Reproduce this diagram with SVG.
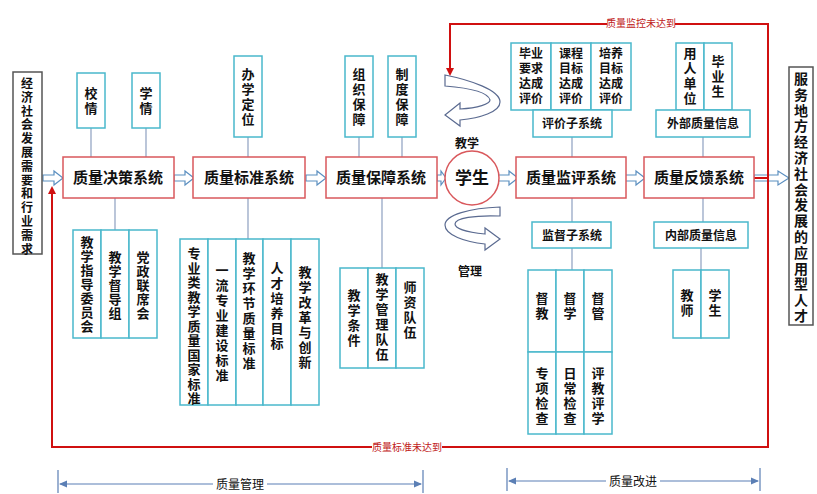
<svg xmlns="http://www.w3.org/2000/svg" width="817" height="494" viewBox="0 0 817 494">
<style>
text{font-family:"Noto Sans CJK SC","Noto Sans",sans-serif;fill:#111;font-weight:bold}
.v{font-size:13px;text-anchor:middle}
.m{font-size:15px;text-anchor:middle}
.s{font-size:12px;text-anchor:middle}
.main{fill:#fff;stroke:#d9585c;stroke-width:1.5}
.sub{fill:#fff;stroke:#4ab8cc;stroke-width:1.5}
.side{fill:#fff;stroke:#555;stroke-width:1.5}
.ln{stroke:#8ea0c0;stroke-width:1.2;fill:none}
.red{stroke:#d01010;stroke-width:2;fill:none}
.ha{fill:#fff;stroke:#5b8fc0;stroke-width:1.2}
.dim{stroke:#5b7fb5;stroke-width:1.2;fill:none}
.lbl{font-size:10px;fill:#c02020;font-weight:normal;text-anchor:middle}
</style>
<defs>
<path id="ha" d="M0,-3 H11 V-7 L20,0 L11,7 V3 H0 Z"/>
<marker id="rh" markerWidth="8" markerHeight="8" refX="6" refY="4" orient="auto" markerUnits="userSpaceOnUse"><path d="M0,0 L8,4 L0,8 Z" fill="#d01010"/></marker>
<marker id="bh" markerWidth="8" markerHeight="8" refX="7" refY="4" orient="auto-start-reverse" markerUnits="userSpaceOnUse"><path d="M0,0.5 L8,4 L0,7.5 Z" fill="#5b7fb5"/></marker>
</defs>
<rect width="817" height="494" fill="#fff"/>

<g id="connectors">
<path class="ln" d="M91,128V157M146,128V157M115,198V230M248,137V157M248,198V239M359,137V157M402,137V157M382,198V268M572,137V157M572,198V222M572,248V270M703,137V157M703,198V222M701,248V270"/>
<g class="ha">
<use href="#ha" x="43" y="178"/><use href="#ha" x="174" y="178"/><use href="#ha" x="306" y="178"/>
<path d="M437,175 H441 V171 L446,178 L441,185 V181 H437 Z"/>
<use href="#ha" x="498" y="178"/><use href="#ha" x="625" y="178"/>
<path d="M754,175 H778 V171 L789,178 L778,185 V181 H754 Z"/>
</g>
<path class="red" d="M768,178 H746" marker-end="url(#rh)"/>
<path class="red" d="M768,178 V24 H450 V74" marker-end="url(#rh)"/>
<path class="red" d="M768,178 V447 H52 V188" marker-end="url(#rh)"/>
<rect x="607" y="17" width="68" height="13" fill="#fff"/>
<text class="lbl" x="641" y="27">质量监控未达到</text>
<rect x="372" y="441" width="70" height="13" fill="#fff"/>
<text class="lbl" x="407" y="451">质量标准未达到</text>
<path fill="#fff" stroke="#5a6a90" stroke-width="1.2" d="M445,75 C470,80 500,90 500,102 C500,112 480,118 460,120 V126 L445,115 L460,103 V109 C478,108 490,104 490,100 C488,92 470,88 445,86 Z"/>
<path fill="#fff" stroke="#5a6a90" stroke-width="1.2" d="M500,207 C470,208 445,215 445,225 C445,235 465,242 485,244 V250 L500,239 L485,228 V234 C465,232 455,228 455,224 C455,218 475,215 500,216 Z"/>
<path class="dim" d="M58,470V493M423,470V493M507,468V491M760,468V491"/>
<path class="dim" d="M60,484H421" marker-start="url(#bh)" marker-end="url(#bh)"/>
<path class="dim" d="M509,481H758" marker-start="url(#bh)" marker-end="url(#bh)"/>
<rect x="213" y="476" width="54" height="16" fill="#fff"/>
<text x="240" y="489" style="font-size:12px;font-weight:normal;text-anchor:middle">质量管理</text>
<rect x="606" y="473" width="54" height="16" fill="#fff"/>
<text x="633" y="486" style="font-size:12px;font-weight:normal;text-anchor:middle">质量改进</text>
<text x="467" y="148" style="font-size:12px;text-anchor:middle">教学</text>
<text x="470" y="276" style="font-size:12px;text-anchor:middle">管理</text>
</g>

<g id="n-left"><rect class="side" x="13" y="72" width="29" height="182"/>
<text class="v" style="font-size:12px"><tspan x="27" y="88">经</tspan><tspan x="27" y="101.8">济</tspan><tspan x="27" y="115.6">社</tspan><tspan x="27" y="129.4">会</tspan><tspan x="27" y="143.2">发</tspan><tspan x="27" y="157">展</tspan><tspan x="27" y="170.8">需</tspan><tspan x="27" y="184.6">要</tspan><tspan x="27" y="198.4">和</tspan><tspan x="27" y="212.2">行</tspan><tspan x="27" y="226">业</tspan><tspan x="27" y="239.8">需</tspan><tspan x="27" y="253.6">求</tspan></text></g>
<g id="n-right"><rect class="side" x="789" y="67" width="24" height="258"/>
<text class="v" style="font-size:14px"><tspan x="801" y="84">服</tspan><tspan x="801" y="99.8">务</tspan><tspan x="801" y="115.6">地</tspan><tspan x="801" y="131.4">方</tspan><tspan x="801" y="147.2">经</tspan><tspan x="801" y="163">济</tspan><tspan x="801" y="178.8">社</tspan><tspan x="801" y="194.6">会</tspan><tspan x="801" y="210.4">发</tspan><tspan x="801" y="226.2">展</tspan><tspan x="801" y="242">的</tspan><tspan x="801" y="257.8">应</tspan><tspan x="801" y="273.6">用</tspan><tspan x="801" y="289.4">型</tspan><tspan x="801" y="305.2">人</tspan><tspan x="801" y="321">才</tspan></text></g>

<g id="n-jc"><rect class="main" x="63" y="157" width="111" height="41"/><text class="m" x="118" y="183">质量决策系统</text></g>
<g id="n-bz"><rect class="main" x="193" y="157" width="112" height="41"/><text class="m" x="249" y="183">质量标准系统</text></g>
<g id="n-bzh"><rect class="main" x="326" y="157" width="111" height="41"/><text class="m" x="381" y="183">质量保障系统</text></g>
<g id="n-xs"><circle cx="472" cy="178" r="27" fill="#fff" stroke="#d9585c" stroke-width="1.5"/><text class="m" x="472" y="184" style="font-size:17px">学生</text></g>
<g id="n-jp"><rect class="main" x="516" y="157" width="110" height="41"/><text class="m" x="571" y="183">质量监评系统</text></g>
<g id="n-fk"><rect class="main" x="644" y="157" width="110" height="41"/><text class="m" x="699" y="183">质量反馈系统</text></g>

<g id="n-xq"><rect class="sub" x="77" y="73" width="28" height="55"/><text class="v"><tspan x="91" y="98">校</tspan><tspan x="91" y="113">情</tspan></text></g>
<g id="n-xq2"><rect class="sub" x="132" y="73" width="28" height="55"/><text class="v"><tspan x="146" y="98">学</tspan><tspan x="146" y="113">情</tspan></text></g>
<g id="n-bxdw"><rect class="sub" x="234" y="56" width="28" height="81"/><text class="v"><tspan x="248" y="79">办</tspan><tspan x="248" y="94">学</tspan><tspan x="248" y="109">定</tspan><tspan x="248" y="124">位</tspan></text></g>
<g id="n-zzbz"><rect class="sub" x="345" y="56" width="28" height="81"/><text class="v"><tspan x="359" y="79">组</tspan><tspan x="359" y="94">织</tspan><tspan x="359" y="109">保</tspan><tspan x="359" y="124">障</tspan></text></g>
<g id="n-zdbz"><rect class="sub" x="388" y="56" width="28" height="81"/><text class="v"><tspan x="402" y="79">制</tspan><tspan x="402" y="94">度</tspan><tspan x="402" y="109">保</tspan><tspan x="402" y="124">障</tspan></text></g>

<g id="n-jc-sub">
<rect class="sub" x="73" y="230" width="28" height="108"/><rect class="sub" x="101" y="230" width="28" height="108"/><rect class="sub" x="129" y="230" width="28" height="108"/>
<text class="v"><tspan x="87" y="247">教</tspan><tspan x="87" y="261">学</tspan><tspan x="87" y="275">指</tspan><tspan x="87" y="289">导</tspan><tspan x="87" y="303">委</tspan><tspan x="87" y="317">员</tspan><tspan x="87" y="331">会</tspan></text>
<text class="v"><tspan x="115" y="262">教</tspan><tspan x="115" y="276">学</tspan><tspan x="115" y="290">督</tspan><tspan x="115" y="304">导</tspan><tspan x="115" y="318">组</tspan></text>
<text class="v"><tspan x="143" y="262">党</tspan><tspan x="143" y="276">政</tspan><tspan x="143" y="290">联</tspan><tspan x="143" y="304">席</tspan><tspan x="143" y="318">会</tspan></text>
</g>
<g id="n-bz-sub">
<rect class="sub" x="180" y="239" width="28" height="166"/><rect class="sub" x="208" y="239" width="28" height="166"/><rect class="sub" x="236" y="239" width="27" height="166"/><rect class="sub" x="263" y="239" width="28" height="166"/><rect class="sub" x="291" y="239" width="28" height="166"/>
<text class="v"><tspan x="194" y="258">专</tspan><tspan x="194" y="272.5">业</tspan><tspan x="194" y="287">类</tspan><tspan x="194" y="301.5">教</tspan><tspan x="194" y="316">学</tspan><tspan x="194" y="330.5">质</tspan><tspan x="194" y="345">量</tspan><tspan x="194" y="359.5">国</tspan><tspan x="194" y="374">家</tspan><tspan x="194" y="388.5">标</tspan><tspan x="194" y="403">准</tspan></text>
<text class="v"><tspan x="222" y="275">一</tspan><tspan x="222" y="290">流</tspan><tspan x="222" y="305">专</tspan><tspan x="222" y="320">业</tspan><tspan x="222" y="335">建</tspan><tspan x="222" y="350">设</tspan><tspan x="222" y="365">标</tspan><tspan x="222" y="380">准</tspan></text>
<text class="v"><tspan x="249" y="263">教</tspan><tspan x="249" y="278">学</tspan><tspan x="249" y="293">环</tspan><tspan x="249" y="308">节</tspan><tspan x="249" y="323">质</tspan><tspan x="249" y="338">量</tspan><tspan x="249" y="353">标</tspan><tspan x="249" y="368">准</tspan></text>
<text class="v"><tspan x="277" y="273">人</tspan><tspan x="277" y="288">才</tspan><tspan x="277" y="303">培</tspan><tspan x="277" y="318">养</tspan><tspan x="277" y="333">目</tspan><tspan x="277" y="348">标</tspan></text>
<text class="v"><tspan x="305" y="277">教</tspan><tspan x="305" y="292">学</tspan><tspan x="305" y="307">改</tspan><tspan x="305" y="322">革</tspan><tspan x="305" y="337">与</tspan><tspan x="305" y="352">创</tspan><tspan x="305" y="367">新</tspan></text>
</g>
<g id="n-bzh-sub">
<rect class="sub" x="340" y="268" width="28" height="100"/><rect class="sub" x="368" y="268" width="28" height="100"/><rect class="sub" x="396" y="268" width="28" height="100"/>
<text class="v"><tspan x="354" y="300">教</tspan><tspan x="354" y="315">学</tspan><tspan x="354" y="330">条</tspan><tspan x="354" y="345">件</tspan></text>
<text class="v"><tspan x="382" y="284">教</tspan><tspan x="382" y="299">学</tspan><tspan x="382" y="314">管</tspan><tspan x="382" y="329">理</tspan><tspan x="382" y="344">队</tspan><tspan x="382" y="359">伍</tspan></text>
<text class="v"><tspan x="410" y="292">师</tspan><tspan x="410" y="307">资</tspan><tspan x="410" y="322">队</tspan><tspan x="410" y="337">伍</tspan></text>
</g>

<g id="n-pj">
<rect class="sub" x="511" y="43" width="40" height="67"/><rect class="sub" x="551" y="43" width="40" height="67"/><rect class="sub" x="591" y="43" width="40" height="67"/>
<text class="s"><tspan x="531" y="58">毕业</tspan><tspan x="531" y="73">要求</tspan><tspan x="531" y="88">达成</tspan><tspan x="531" y="103">评价</tspan></text>
<text class="s"><tspan x="571" y="58">课程</tspan><tspan x="571" y="73">目标</tspan><tspan x="571" y="88">达成</tspan><tspan x="571" y="103">评价</tspan></text>
<text class="s"><tspan x="611" y="58">培养</tspan><tspan x="611" y="73">目标</tspan><tspan x="611" y="88">达成</tspan><tspan x="611" y="103">评价</tspan></text>
<rect class="sub" x="533" y="110" width="79" height="27"/><text class="s" x="572" y="128">评价子系统</text>
</g>
<g id="n-wb">
<rect class="sub" x="676" y="43" width="28" height="67"/><rect class="sub" x="704" y="43" width="28" height="67"/>
<text class="v"><tspan x="690" y="58">用</tspan><tspan x="690" y="73">人</tspan><tspan x="690" y="88">单</tspan><tspan x="690" y="103">位</tspan></text>
<text class="v"><tspan x="718" y="66">毕</tspan><tspan x="718" y="81">业</tspan><tspan x="718" y="96">生</tspan></text>
<rect class="sub" x="656" y="110" width="94" height="27"/><text class="s" x="703" y="128">外部质量信息</text>
</g>
<g id="n-jd">
<rect class="sub" x="532" y="222" width="79" height="26"/><text class="s" x="572" y="240">监督子系统</text>
<rect class="sub" x="528" y="270" width="28" height="82"/><rect class="sub" x="556" y="270" width="28" height="82"/><rect class="sub" x="584" y="270" width="28" height="82"/>
<rect class="sub" x="528" y="352" width="28" height="82"/><rect class="sub" x="556" y="352" width="28" height="82"/><rect class="sub" x="584" y="352" width="28" height="82"/>
<text class="v"><tspan x="542" y="303">督</tspan><tspan x="542" y="318">教</tspan></text>
<text class="v"><tspan x="570" y="303">督</tspan><tspan x="570" y="318">学</tspan></text>
<text class="v"><tspan x="598" y="303">督</tspan><tspan x="598" y="318">管</tspan></text>
<text class="v"><tspan x="542" y="378">专</tspan><tspan x="542" y="393">项</tspan><tspan x="542" y="408">检</tspan><tspan x="542" y="423">查</tspan></text>
<text class="v"><tspan x="570" y="378">日</tspan><tspan x="570" y="393">常</tspan><tspan x="570" y="408">检</tspan><tspan x="570" y="423">查</tspan></text>
<text class="v"><tspan x="598" y="378">评</tspan><tspan x="598" y="393">教</tspan><tspan x="598" y="408">评</tspan><tspan x="598" y="423">学</tspan></text>
</g>
<g id="n-nb">
<rect class="sub" x="654" y="222" width="94" height="26"/><text class="s" x="701" y="240">内部质量信息</text>
<rect class="sub" x="673" y="270" width="28" height="68"/><rect class="sub" x="701" y="270" width="28" height="68"/>
<text class="v"><tspan x="687" y="300">教</tspan><tspan x="687" y="315">师</tspan></text>
<text class="v"><tspan x="715" y="300">学</tspan><tspan x="715" y="315">生</tspan></text>
</g>
</svg>
